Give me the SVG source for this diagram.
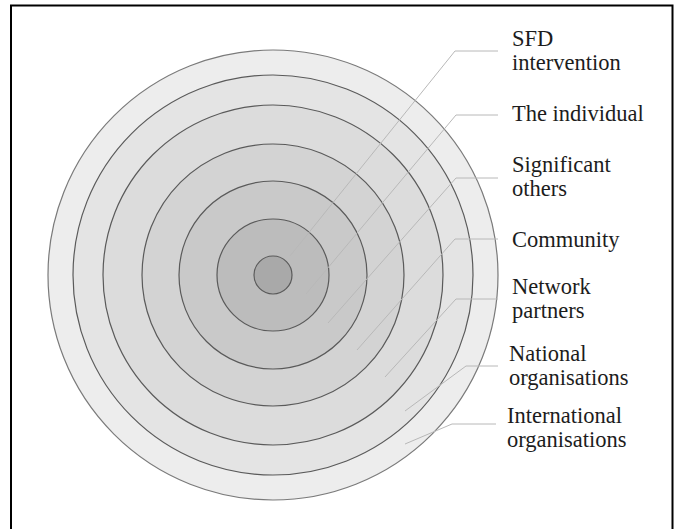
<svg xmlns="http://www.w3.org/2000/svg" width="674" height="529" viewBox="0 0 674 529">
<style>
.ring{stroke:#5a5a5a;stroke-width:1.2}
.lead{fill:none;stroke:#b8b8b8;stroke-width:1}
.lbl{font-family:"Liberation Serif","Times New Roman",serif;font-size:22.5px;fill:#1c1c1c}
</style>
<rect width="674" height="529" fill="#ffffff"/>
<path d="M11 529 V5.5 H672.5 V529" fill="none" stroke="#000" stroke-width="2"/>
<g id="circles">
<circle id="c-international" class="ring" cx="273" cy="275" r="225" fill="#ededed" style="stroke:#7a7a7a"/>
<circle id="c-national" class="ring" cx="273" cy="275" r="200" fill="#e4e4e4"/>
<circle id="c-network" class="ring" cx="273" cy="275" r="170" fill="#dcdcdc"/>
<circle id="c-community" class="ring" cx="273" cy="275" r="131" fill="#d3d3d3"/>
<circle id="c-significant" class="ring" cx="273" cy="275" r="94" fill="#c9c9c9"/>
<circle id="c-individual" class="ring" cx="273" cy="275" r="56" fill="#bcbcbc"/>
<circle id="c-sfd" class="ring" cx="273" cy="275" r="19" fill="#a9a9a9"/>
</g>
<g id="connectors">
<polyline class="lead" points="290,256 455,51 498,51"/>
<polyline class="lead" points="306,294 456,115 498,115"/>
<polyline class="lead" points="328,323 456,178 498,178"/>
<polyline class="lead" points="357,350 455,239 498,239"/>
<polyline class="lead" points="385,377 456,299 498,299"/>
<polyline class="lead" points="405,411 466,366 498,366"/>
<polyline class="lead" points="405,444 452,424 496,424"/>
</g>
<g id="label-sfd"><text class="lbl" x="512" y="46">SFD</text><text class="lbl" x="512" y="70">intervention</text></g>
<g id="label-individual"><text class="lbl" x="512" y="121">The individual</text></g>
<g id="label-significant"><text class="lbl" x="512" y="172">Significant</text><text class="lbl" x="512" y="196">others</text></g>
<g id="label-community"><text class="lbl" x="512" y="247">Community</text></g>
<g id="label-network"><text class="lbl" x="512" y="294">Network</text><text class="lbl" x="512" y="318">partners</text></g>
<g id="label-national"><text class="lbl" x="509" y="361">National</text><text class="lbl" x="509" y="385">organisations</text></g>
<g id="label-international"><text class="lbl" x="507" y="423">International</text><text class="lbl" x="507" y="447">organisations</text></g>
</svg>
